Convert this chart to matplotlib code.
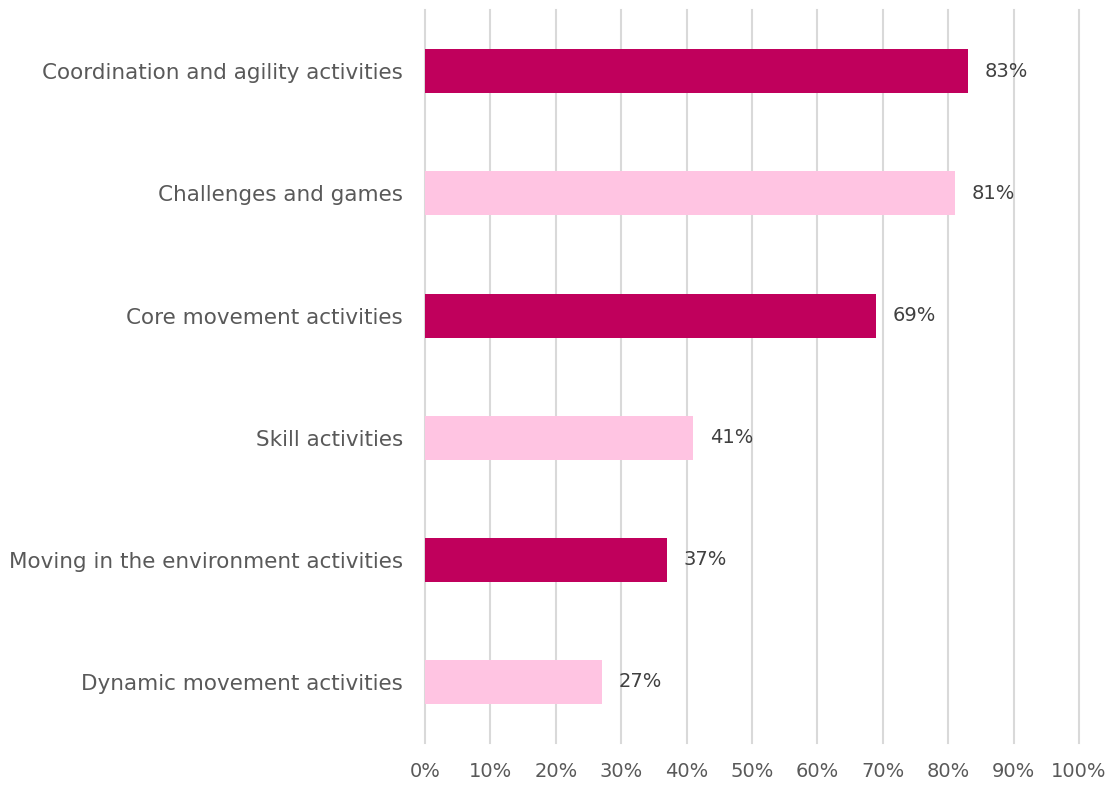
import matplotlib.pyplot as plt
from matplotlib.ticker import MultipleLocator, PercentFormatter

# Share of respondents by activity type (top to bottom)
categories = [
    "Coordination and agility activities",
    "Challenges and games",
    "Core movement activities",
    "Skill activities",
    "Moving in the environment activities",
    "Dynamic movement activities",
]
values = [83, 81, 69, 41, 37, 27]
bar_colors = ["#C0005C", "#FFC4E2", "#C0005C", "#FFC4E2", "#C0005C", "#FFC4E2"]

plt.rcParams["font.family"] = ["DejaVu Sans"]

fig = plt.figure(figsize=(11.13, 7.85), dpi=100)
ax = fig.add_axes([0.3819, 0.0535, 0.5875, 0.9335])

pos = list(range(len(categories)))
ax.barh(pos, values, height=0.36, color=bar_colors, zorder=3)

for y, v in zip(pos, values):
    ax.annotate(f"{v}%", (v, y), xytext=(12, 0), textcoords="offset points",
                va="center", ha="left", fontsize=14, color="#404040")

ax.set_xlim(0, 100)
ax.set_ylim(len(categories) - 0.5, -0.5)
ax.set_yticks(pos)
ax.set_yticklabels(categories, fontsize=15.5)
ax.xaxis.set_major_locator(MultipleLocator(10))
ax.xaxis.set_major_formatter(PercentFormatter(decimals=0))

ax.grid(axis="x", color="#D9D9D9", linewidth=1.5, zorder=0)
for line in ax.get_xgridlines():
    line.set_clip_on(False)
for s in ax.spines.values():
    s.set_visible(False)
ax.tick_params(axis="both", length=0, colors="#595959")
ax.tick_params(axis="x", labelsize=14, pad=14)
ax.tick_params(axis="y", pad=16)

fig.savefig("out.png", dpi=100)
